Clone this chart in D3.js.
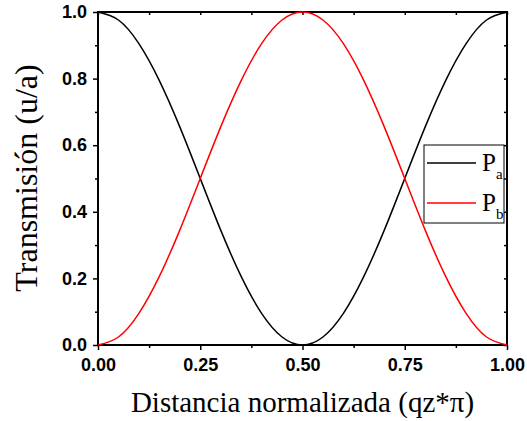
<!DOCTYPE html>
<html>
<head>
<meta charset="utf-8">
<script src="https://cdn.jsdelivr.net/npm/d3@7"></script>
<style>
  body { margin: 0; background: #fff; }
</style>
</head>
<body>
<div class="chart"></div>
<script>
// positions along the normalized distance
let xValues = [0.00, 0.05, 0.10, 0.15, 0.20, 0.25, 0.30, 0.35, 0.40, 0.45, 0.50,
               0.55, 0.60, 0.65, 0.70, 0.75, 0.80, 0.85, 0.90, 0.95, 1.00];
// transmission of Pa (black) and Pb (red)
let paValues = [1.000, 0.976, 0.905, 0.794, 0.655, 0.500, 0.345, 0.206, 0.095, 0.024, 0.000,
                0.024, 0.095, 0.206, 0.345, 0.500, 0.655, 0.794, 0.905, 0.976, 1.000];
let pbValues = [0.000, 0.024, 0.095, 0.206, 0.345, 0.500, 0.655, 0.794, 0.905, 0.976, 1.000,
                0.976, 0.905, 0.794, 0.655, 0.500, 0.345, 0.206, 0.095, 0.024, 0.000];
let xTicks = [0, 0.25, 0.5, 0.75, 1];
let yTicks = [0, 0.2, 0.4, 0.6, 0.8, 1.0];

let serif = '"Liberation Serif", "Times New Roman", serif';
let sans = '"Liberation Sans", Arial, sans-serif';

function drawChart(d3) {
  let width = 527;
  let height = 421;
  let margin = { top: 12, right: 20, bottom: 76, left: 98 };

  let svg = d3.select('.chart')
    .append('svg')
    .attr('width', width)
    .attr('height', height);

  let xScale = d3.scaleLinear()
    .domain([0, 1])
    .range([margin.left, width - margin.right]);

  let yScale = d3.scaleLinear()
    .domain([0, 1])
    .range([height - margin.bottom, margin.top]);

  let xMinor = d3.range(0.125, 1, 0.25);
  let yMinor = d3.range(0.1, 1, 0.2);

  // minor ticks first
  svg.append('g')
    .attr('transform', 'translate(0,' + yScale(0) + ')')
    .call(d3.axisBottom(xScale).tickValues(xMinor).tickSize(3).tickFormat(''))
    .call(g => g.select('.domain').remove());
  svg.append('g')
    .attr('transform', 'translate(' + xScale(0) + ',0)')
    .call(d3.axisLeft(yScale).tickValues(yMinor).tickSize(3).tickFormat(''))
    .call(g => g.select('.domain').remove());

  // top and right mirrored ticks (inward)
  svg.append('g')
    .attr('transform', 'translate(0,' + yScale(1) + ')')
    .call(d3.axisBottom(xScale).tickValues(xTicks.concat(xMinor)).tickSize(3).tickFormat(''))
    .call(g => g.select('.domain').remove());
  svg.append('g')
    .attr('transform', 'translate(' + xScale(1) + ',0)')
    .call(d3.axisLeft(yScale).tickValues(yTicks.concat(yMinor)).tickSize(3).tickFormat(''))
    .call(g => g.select('.domain').remove());

  let xAxis = svg.append('g')
    .attr('transform', 'translate(0,' + yScale(0) + ')')
    .call(d3.axisBottom(xScale).tickValues(xTicks).tickSize(5).tickPadding(8)
      .tickFormat(d3.format('.2f')));
  xAxis.select('.domain').remove();

  let yAxis = svg.append('g')
    .attr('transform', 'translate(' + xScale(0) + ',0)')
    .call(d3.axisLeft(yScale).tickValues(yTicks).tickSize(5).tickPadding(6)
      .tickFormat(d3.format('.1f')));
  yAxis.select('.domain').remove();

  svg.selectAll('.tick line').attr('stroke', '#000').attr('stroke-width', 1.5);
  svg.selectAll('.tick text')
    .attr('fill', '#000')
    .attr('font-family', sans)
    .attr('font-weight', 'bold')
    .attr('font-size', 18);

  // frame
  svg.append('rect')
    .attr('x', xScale(0))
    .attr('y', yScale(1))
    .attr('width', xScale(1) - xScale(0))
    .attr('height', yScale(0) - yScale(1))
    .attr('fill', 'none')
    .attr('stroke', '#000')
    .attr('stroke-width', 2);

  let line = d3.line()
    .x(function(d) { return xScale(d[0]); })
    .y(function(d) { return yScale(d[1]); })
    .curve(d3.curveNatural);

  let series = [
    { values: paValues, color: '#000', sub: 'a' },
    { values: pbValues, color: '#ff0000', sub: 'b' }
  ];

  series.forEach(function(s) {
    svg.append('path')
      .datum(xValues.map(function(x, i) { return [x, s.values[i]]; }))
      .attr('fill', 'none')
      .attr('stroke', s.color)
      .attr('stroke-width', 1.5)
      .attr('d', line);
  });

  // legend
  let legend = svg.append('g').attr('transform', 'translate(424,145)');
  legend.append('rect')
    .attr('width', 80)
    .attr('height', 78)
    .attr('fill', '#fff')
    .attr('stroke', '#000')
    .attr('stroke-width', 1);

  series.forEach(function(s, i) {
    let y = 18 + i * 40;
    legend.append('line')
      .attr('x1', 3).attr('x2', 52)
      .attr('y1', y).attr('y2', y)
      .attr('stroke', s.color)
      .attr('stroke-width', 1.5);
    let t = legend.append('text')
      .attr('x', 58)
      .attr('y', y + 8)
      .attr('font-family', serif)
      .attr('font-size', 25);
    t.append('tspan').text('P');
    t.append('tspan').attr('font-size', 15).attr('dy', 8).text(s.sub);
  });

  // axis titles
  svg.append('text')
    .attr('x', (xScale(0) + xScale(1)) / 2)
    .attr('y', 412)
    .attr('text-anchor', 'middle')
    .attr('font-family', serif)
    .attr('font-size', 29)
    .text('Distancia normalizada (qz*π)');

  svg.append('text')
    .attr('transform', 'translate(37,178) rotate(-90)')
    .attr('text-anchor', 'middle')
    .attr('font-family', serif)
    .attr('font-size', 32)
    .text('Transmisión (u/a)');
}

drawChart(d3);
</script>
</body>
</html>
